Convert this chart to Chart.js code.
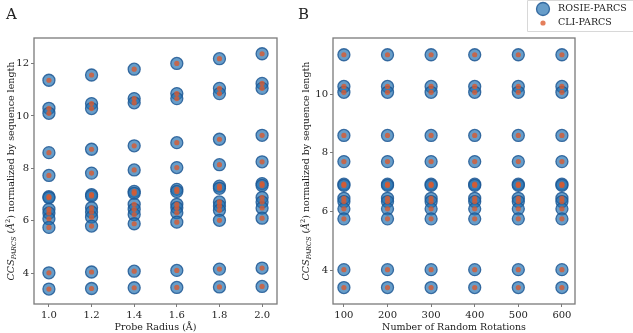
<!DOCTYPE html>
<html>
<head>
<meta charset="utf-8">
<script src="https://cdn.jsdelivr.net/npm/chart.js@4.4.0/dist/chart.umd.min.js"></script>
<style>
  body { margin: 0; background: #fff; }
  #wrap { position: relative; width: 633px; height: 333px; overflow: hidden; }
  #chartA { position: absolute; left: 0; top: 0; }
  #chartB { position: absolute; left: 296px; top: 0; }
</style>
</head>
<body>
<div id="wrap">
  <canvas id="chartA" width="296" height="333"></canvas>
  <canvas id="chartB" width="337" height="333"></canvas>
</div>
<script>
// panel A: probe radius vs normalized CCS (one row per structure set per radius)
const probeRadius = [1.0, 1.2, 1.4, 1.6, 1.8, 2.0];
const ccsByRadius = [
  [11.36, 10.29, 10.10, 8.60, 7.73, 6.92, 6.88, 6.44, 6.30, 6.08, 5.75, 4.02, 3.40],
  [11.56, 10.47, 10.28, 8.73, 7.82, 7.00, 6.95, 6.50, 6.34, 6.14, 5.80, 4.05, 3.42],
  [11.78, 10.66, 10.50, 8.86, 7.94, 7.12, 7.05, 6.63, 6.44, 6.24, 5.89, 4.08, 3.45],
  [12.00, 10.85, 10.66, 8.98, 8.03, 7.20, 7.12, 6.63, 6.50, 6.31, 5.95, 4.11, 3.46],
  [12.18, 11.05, 10.85, 9.11, 8.14, 7.32, 7.24, 6.72, 6.57, 6.40, 6.02, 4.16, 3.48],
  [12.37, 11.24, 11.05, 9.26, 8.25, 7.42, 7.35, 6.89, 6.72, 6.49, 6.10, 4.20, 3.50]
];
const xTicksA = [1.0, 1.2, 1.4, 1.6, 1.8, 2.0];
const yTicksA = [4, 6, 8, 10, 12];

// panel B: number of random rotations
const rotations = [100, 200, 300, 400, 500, 600];
const ccsByRotations = [
  [11.34, 10.26, 10.06, 8.59, 7.70, 6.93, 6.89, 6.45, 6.34, 6.09, 5.75, 4.02, 3.41],
  [11.34, 10.26, 10.06, 8.59, 7.70, 6.93, 6.89, 6.45, 6.34, 6.09, 5.75, 4.02, 3.41],
  [11.34, 10.26, 10.06, 8.59, 7.70, 6.93, 6.89, 6.45, 6.34, 6.09, 5.75, 4.02, 3.41],
  [11.34, 10.26, 10.06, 8.59, 7.70, 6.93, 6.89, 6.45, 6.34, 6.09, 5.75, 4.02, 3.41],
  [11.34, 10.26, 10.06, 8.59, 7.70, 6.93, 6.89, 6.45, 6.34, 6.09, 5.75, 4.02, 3.41],
  [11.34, 10.26, 10.06, 8.59, 7.70, 6.93, 6.89, 6.45, 6.34, 6.09, 5.75, 4.02, 3.41]
];
const xTicksB = [100, 200, 300, 400, 500, 600];
const yTicksB = [4, 6, 8, 10];

const seriesNames = ['ROSIE-PARCS', 'CLI-PARCS'];

const SERIF = "'DejaVu Serif', serif";
const blueFill = 'rgba(31,110,175,0.68)';
const blueEdge = 'rgba(30,88,148,0.85)';
const redFill = 'rgba(220,90,45,0.78)';
const frameColor = '#7a7a7a';

function toPoints(xs, rows) {
  let pts = [];
  xs.forEach((x, i) => {
    rows[i].forEach(v => pts.push({ x: x, y: v }));
  });
  return pts;
}

// frame around plot area + y title with sub/superscript + panel letter
const decor = {
  id: 'decor',
  afterDraw(chart, args, opts) {
    const ctx = chart.ctx;
    const a = chart.chartArea;
    ctx.save();
    ctx.strokeStyle = frameColor;
    ctx.lineWidth = 1.3;
    ctx.strokeRect(a.left, a.top, a.right - a.left, a.bottom - a.top);

    // panel letter
    ctx.fillStyle = '#222';
    ctx.font = "15px " + SERIF;
    ctx.textBaseline = 'middle';
    ctx.textAlign = 'left';
    ctx.fillText(opts.letter, opts.letterX, 15);

    // y title
    const parts = [
      { t: 'CCS', f: 'italic 9.5px ' + SERIF, dy: 0 },
      { t: 'PARCS', f: 'italic 6.5px ' + SERIF, dy: 2.5 },
      { t: ' (', f: '9.5px ' + SERIF, dy: 0 },
      { t: 'Å', f: 'italic 9.5px ' + SERIF, dy: 0 },
      { t: '2', f: '6.5px ' + SERIF, dy: -4 },
      { t: ') normalized by sequence length', f: '9.5px ' + SERIF, dy: 0 }
    ];
    let total = 0;
    parts.forEach(p => { ctx.font = p.f; p.w = ctx.measureText(p.t).width; total += p.w; });
    ctx.translate(opts.titleX, (a.top + a.bottom) / 2);
    ctx.rotate(-Math.PI / 2);
    ctx.textAlign = 'left';
    ctx.textBaseline = 'middle';
    ctx.fillStyle = '#222';
    let x = -total / 2;
    parts.forEach(p => {
      ctx.font = p.f;
      ctx.fillText(p.t, x, p.dy);
      x += p.w;
    });
    ctx.restore();
  }
};

// legend box in the top right corner (partly off the page as in the figure)
const cornerLegend = {
  id: 'cornerLegend',
  afterDraw(chart, args, opts) {
    if (!opts.show) return;
    const ctx = chart.ctx;
    ctx.save();
    ctx.strokeStyle = '#d8d8d8';
    ctx.lineWidth = 1;
    ctx.fillStyle = 'rgba(255,255,255,0.9)';
    ctx.beginPath();
    ctx.rect(opts.x + 0.5, 0.5, 200, 31);
    ctx.fill();
    ctx.stroke();
    // big blue marker
    ctx.beginPath();
    ctx.arc(opts.x + 16, 9, 6.5, 0, Math.PI * 2);
    ctx.fillStyle = blueFill;
    ctx.fill();
    ctx.lineWidth = 1.3;
    ctx.strokeStyle = blueEdge;
    ctx.stroke();
    // small orange marker
    ctx.beginPath();
    ctx.arc(opts.x + 16, 23, 2.6, 0, Math.PI * 2);
    ctx.fillStyle = redFill;
    ctx.fill();
    ctx.fillStyle = '#222';
    ctx.font = '9.5px ' + SERIF;
    ctx.textBaseline = 'middle';
    ctx.textAlign = 'left';
    ctx.fillText(seriesNames[0], opts.x + 31, 9);
    ctx.fillText(seriesNames[1], opts.x + 31, 23);
    ctx.restore();
  }
};

function makeChart(canvasId, xs, rows, xTicks, yTicks, xr, yr, xTitle, fmt, pad, yWidth, extra) {
  const pts = toPoints(xs, rows);
  return new Chart(document.getElementById(canvasId), {
    type: 'scatter',
    data: {
      datasets: [
        {
          label: seriesNames[1],
          data: pts,
          backgroundColor: redFill,
          borderWidth: 0,
          pointRadius: 2.6,
          order: 0
        },
        {
          label: seriesNames[0],
          data: pts,
          backgroundColor: blueFill,
          borderColor: blueEdge,
          borderWidth: 1.3,
          pointRadius: 6,
          order: 1
        }
      ]
    },
    options: {
      responsive: false,
      animation: false,
      events: [],
      layout: { padding: pad },
      plugins: {
        legend: { display: false },
        tooltip: { enabled: false },
        decor: extra.decor,
        cornerLegend: extra.legend
      },
      scales: {
        x: {
          type: 'linear',
          min: xr[0],
          max: xr[1],
          afterBuildTicks: s => { s.ticks = xTicks.map(v => ({ value: v })); },
          afterFit: s => { s.height = 29; },
          grid: { display: true, drawOnChartArea: false, drawTicks: true, tickLength: 3, color: frameColor },
          border: { display: false },
          ticks: { color: '#222', padding: 2, font: { family: SERIF, size: 10 }, callback: fmt, maxRotation: 0 },
          title: { display: true, text: xTitle, color: '#222', padding: { top: 0, bottom: 0 }, font: { family: SERIF, size: 9.5 } }
        },
        y: {
          type: 'linear',
          min: yr[0],
          max: yr[1],
          afterBuildTicks: s => { s.ticks = yTicks.map(v => ({ value: v })); },
          afterFit: s => { s.width = yWidth; },
          grid: { display: true, drawOnChartArea: false, drawTicks: true, tickLength: 3, color: frameColor },
          border: { display: false },
          ticks: { color: '#222', padding: 2, font: { family: SERIF, size: 10 } }
        }
      }
    },
    plugins: [decor, cornerLegend]
  });
}

makeChart('chartA', probeRadius, ccsByRadius, xTicksA, yTicksA,
  [0.93, 2.07], [2.83, 12.97], 'Probe Radius (Å)', v => v.toFixed(1),
  { left: 0, top: 38, right: 19, bottom: 0 }, 34,
  { decor: { letter: 'A', letterX: 6, titleX: 12 }, legend: { show: false } });

makeChart('chartB', rotations, ccsByRotations, xTicksB, yTicksB,
  [75, 630], [2.85, 11.91], 'Number of Random Rotations', v => v,
  { left: 0, top: 38, right: 58, bottom: 0 }, 37,
  { decor: { letter: 'B', letterX: 2, titleX: 11 }, legend: { show: true, x: 231 } });
</script>
</body>
</html>
